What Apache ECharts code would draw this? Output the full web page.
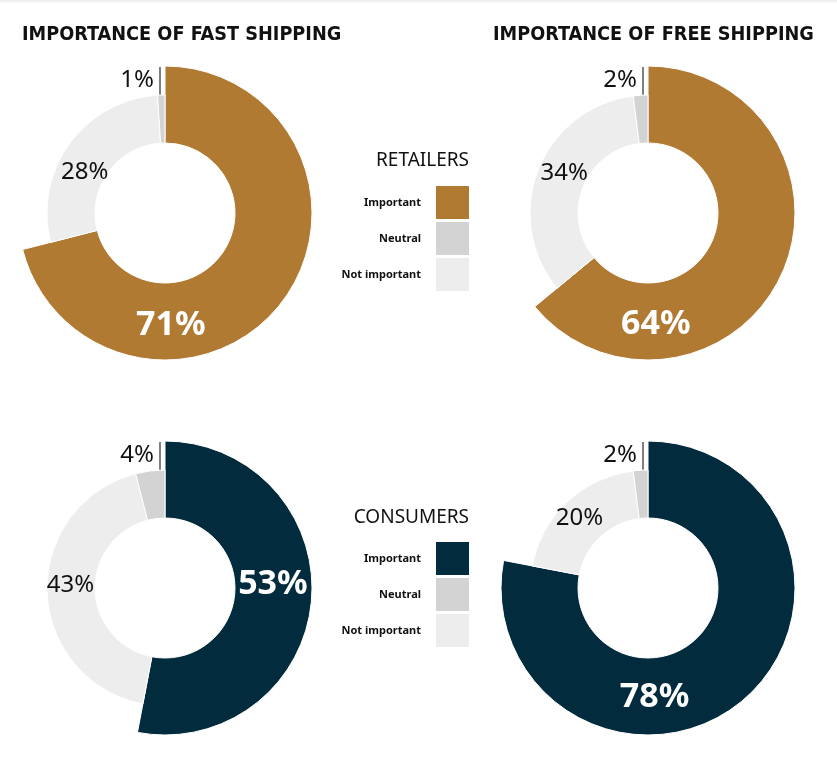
<!DOCTYPE html>
<html><head><meta charset="utf-8">
<script src="https://cdn.jsdelivr.net/npm/echarts@6/dist/echarts.min.js"></script>
<style>html,body{margin:0;padding:0;background:#fff}#c{width:837px;height:759px}</style>
</head><body><div id="c"></div>
<script>
// ---- data ----
const categories = ['Important', 'Neutral', 'Not important'];
const chartTitles = ['IMPORTANCE OF FAST SHIPPING', 'IMPORTANCE OF FREE SHIPPING'];
const groupNames = ['RETAILERS', 'CONSUMERS'];
const retailersFast = [71, 1, 28];
const retailersFree = [64, 2, 34];
const consumersFast = [53, 4, 43];
const consumersFree = [78, 2, 20];

// ---- layout / style ----
// big: placement of the "Important" label, small: of the "Not important" label
// each as [angle clockwise from 12 o'clock in degrees, distance from the centre]
const panels = [
  { values: retailersFast, center: [165, 213], main: '#B07A32', big: [177, 112], small: [297, 90] },
  { values: retailersFree, center: [648, 213], main: '#B07A32', big: [176, 112], small: [295.7, 93] },
  { values: consumersFast, center: [165, 588], main: '#032B3E', big: [88, 108], small: [271.5, 94.5] },
  { values: consumersFree, center: [648, 588], main: '#032B3E', big: [176.6, 110], small: [315.4, 97.5] }
];
const R_IN = 70, R_MAIN = 147, R_REST = 118;
const NEUTRAL = '#D3D3D3', NOTIMP = '#EDEDED';
const pctFont = 'Noto Sans';

function polar(cx, cy, place) {
  const a = place[0] * Math.PI / 180;
  return [cx + place[1] * Math.sin(a), cy - place[1] * Math.cos(a)];
}

const series = [];
panels.forEach(function (p) {
  const cx = p.center[0], cy = p.center[1];
  const imp = p.values[0], neu = p.values[1], noti = p.values[2];
  // outer (important) ring
  series.push({
    type: 'pie', center: p.center, radius: [R_IN, R_MAIN], startAngle: 90, clockwise: true,
    silent: true, animation: false,
    itemStyle: { borderColor: '#fff', borderWidth: 1 },
    data: [
      { name: categories[0], value: imp, itemStyle: { color: p.main },
        label: { show: true, position: 'inside', formatter: '{c}%', color: '#fff',
                 fontFamily: pctFont, fontWeight: 'bold', fontSize: 34 } },
      { name: categories[2], value: noti, itemStyle: { color: 'transparent', borderWidth: 0 }, label: { show: false } },
      { name: categories[1], value: neu, itemStyle: { color: 'transparent', borderWidth: 0 }, label: { show: false } }
    ],
    labelLayout: function (prm) {
      if (prm.dataIndex !== 0) return {};
      const pt = polar(cx, cy, p.big);
      return { x: pt[0], y: pt[1], align: 'center', verticalAlign: 'middle' };
    }
  });
  // inner (neutral / not important) ring
  series.push({
    type: 'pie', center: p.center, radius: [R_IN, R_REST], startAngle: 90, clockwise: true,
    silent: true, animation: false,
    itemStyle: { borderColor: '#fff', borderWidth: 1 },
    data: [
      { name: categories[0], value: imp, itemStyle: { color: 'transparent', borderWidth: 0 }, label: { show: false } },
      { name: categories[2], value: noti, itemStyle: { color: NOTIMP },
        label: { show: true, position: 'inside', formatter: '{c}%', color: '#111', fontFamily: pctFont, fontSize: 24 } },
      { name: categories[1], value: neu, itemStyle: { color: NEUTRAL },
        label: { show: true, position: 'outside', formatter: '{c}%', color: '#111', fontFamily: pctFont, fontSize: 24 },
        labelLine: { show: true, lineStyle: { color: '#555', width: 1.5 } } }
    ],
    labelLayout: function (prm) {
      if (prm.dataIndex === 1) {
        const pt = polar(cx, cy, p.small);
        return { x: pt[0], y: pt[1], align: 'center', verticalAlign: 'middle' };
      }
      if (prm.dataIndex !== 2) return {};
      return {
        x: cx - 11, y: cy - 133, align: 'right', verticalAlign: 'middle',
        labelLinePoints: [[cx - 5, cy - 104], [cx - 5, cy - 146], [cx - 5, cy - 146]]
      };
    }
  });
});

function legendFor(color, top) {
  return {
    orient: 'vertical', align: 'right', right: 368, top: top, padding: 0,
    itemWidth: 33, itemHeight: 33, itemGap: 3, icon: 'rect', selectedMode: false,
    itemStyle: { borderWidth: 0 },
    data: [
      { name: categories[0], itemStyle: { color: color, borderWidth: 0 } },
      { name: categories[1], itemStyle: { color: NEUTRAL, borderWidth: 0 } },
      { name: categories[2], itemStyle: { color: NOTIMP, borderWidth: 0 } }
    ],
    textStyle: { fontFamily: 'Noto Sans', fontWeight: 'bold', fontSize: 11, color: '#111', padding: [0, 10, 0, 0] }
  };
}

const titleStyle = { fontFamily: 'DejaVu Sans Condensed', fontWeight: 'bold', fontSize: 19.7, color: '#111' };
const groupStyle = { fontFamily: 'Noto Sans', fontWeight: 'normal', fontSize: 19, color: '#111' };

const option = {
  backgroundColor: '#fff',
  animation: false,
  graphic: [{
    type: 'rect', left: 0, top: 0, silent: true,
    shape: { width: 837, height: 4 },
    style: { fill: new echarts.graphic.LinearGradient(0, 0, 0, 1, [
      { offset: 0, color: '#ececec' }, { offset: 1, color: '#ffffff' }]) }
  }],
  title: [
    { text: chartTitles[0], left: 22, top: 25, padding: 0, textStyle: titleStyle },
    { text: chartTitles[1], left: 493, top: 25, padding: 0, textStyle: titleStyle },
    { text: groupNames[0], right: 368, top: 151, padding: 0, textStyle: groupStyle },
    { text: groupNames[1], right: 368, top: 508, padding: 0, textStyle: groupStyle }
  ],
  legend: [legendFor('#B07A32', 186), legendFor('#032B3E', 542)],
  series: series
};

const chart = echarts.init(document.getElementById('c'), null, { renderer: 'canvas' });
chart.setOption(option);
</script>
</body></html>
